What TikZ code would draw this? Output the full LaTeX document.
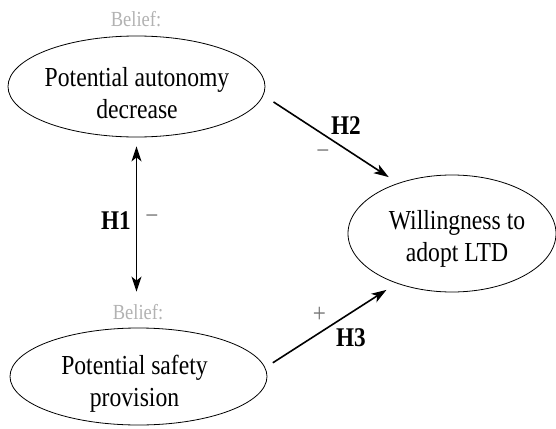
\documentclass[tikz,border=0pt]{standalone}
\usepackage{fontspec}
\setmainfont[FakeStretch=0.86]{Liberation Serif}
\usetikzlibrary{shapes.geometric,arrows.meta}
\begin{document}
\begin{tikzpicture}[x=1pt,y=-1pt,
  oval/.style={ellipse,draw,line width=0.8pt,inner sep=0pt},
  body/.style={font=\fontsize{27.5}{32}\selectfont,align=center,inner sep=0pt,anchor=base},
  belief/.style={font=\fontsize{21.5}{24}\selectfont,text=black!30,inner sep=0pt,anchor=base},
  hyp/.style={font=\fontsize{27}{30}\selectfont\bfseries,inner sep=0pt},
  sign/.style={font=\fontsize{27}{30}\selectfont,text=black!55,inner sep=0pt},
  tip/.tip={Stealth[length=15pt,width=10pt,inset=4pt]},
  link/.style={line width=1.6pt},
  ]
\useasboundingbox (0,0) rectangle (556,428);
% ellipses
\node[oval,minimum width=257pt,minimum height=101pt] (A) at (136.5,86.5) {};
\node[oval,minimum width=257pt,minimum height=97pt] (B) at (138.5,376.5) {};
\node[oval,minimum width=208pt,minimum height=117pt] (C) at (452,233.5) {};
% texts
\node[body] (At) at (137,118.3) {Potential autonomy\\decrease};
\node[body] (Bt) at (134.5,406.7) {Potential safety\\provision};
\node[body] (Ct) at (457,261) {Willingness to\\adopt LTD};
\node[belief] (b1) at (136,26.7) {Belief:};
\node[belief] (b2) at (138,319) {Belief:};
% connectors
\draw[link,-tip,shorten <=12pt,shorten >=11pt] (A.-4.6) -- (C.137.9);
\draw[link,-tip,shorten <=9pt,shorten >=12pt] (B.4) -- (C.222.9);
\draw[link,tip-tip,shorten <=9pt,shorten >=36pt] (A.south) -- (A.south |- B.north);
% labels
\node[hyp,anchor=east] (h1) at (131,221) {H1};
\node[sign] (m1) at (152,220) {−};
\node[hyp] (h2) at (346,126) {H2};
\node[sign] (m2) at (323,155) {−};
\node[sign] (p3) at (319.5,314.5) {+};
\node[hyp] (h3) at (351,338) {H3};
\end{tikzpicture}
\end{document}
